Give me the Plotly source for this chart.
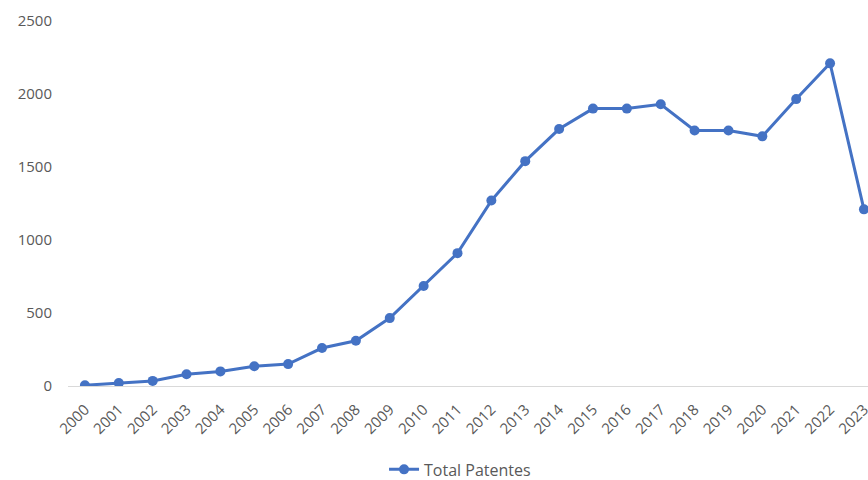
import plotly.graph_objects as go

years = [str(y) for y in range(2000, 2024)]
patentes = [5, 20, 35, 80, 100, 135, 150, 260, 310, 465, 685, 910, 1270, 1540,
            1760, 1900, 1900, 1930, 1750, 1750, 1710, 1965, 2210, 1210]
y_ticks = [0, 500, 1000, 1500, 2000, 2500]

fig = go.Figure()
fig.add_trace(go.Scatter(
    x=years, y=patentes, mode="lines+markers", name="Total Patentes",
    line=dict(color="#4472C4", width=3),
    marker=dict(color="#4472C4", size=10),
))

fig.update_layout(
    width=868, height=480,
    margin=dict(l=68, r=0, t=21, b=94),
    plot_bgcolor="white", paper_bgcolor="white",
    font=dict(family="Open Sans", size=15, color="#595959"),
    showlegend=True,
    legend=dict(orientation="h", x=0.53, xanchor="center", xref="container",
                y=0.022, yanchor="middle", yref="container",
                font=dict(size=16, color="#595959")),
    xaxis=dict(type="category", range=[-0.5, 23.12], tickangle=-45,
               showline=True, linecolor="#d9d9d9", linewidth=1,
               showgrid=False, ticks="", ticklabelstandoff=8,
               tickfont=dict(size=15), automargin=False),
    yaxis=dict(range=[0, 2500], tickvals=y_ticks, showgrid=False,
               zeroline=False, showline=False, ticks="outside", ticklen=12,
               tickcolor="white", tickfont=dict(size=15), automargin=False),
)

fig.write_html("out.html")
